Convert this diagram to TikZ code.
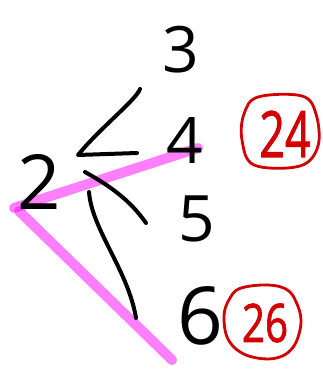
\documentclass[tikz,border=0pt]{standalone}
\usepackage{fontspec}
\setmainfont{Open Sans}
\newfontfamily\redfont[FakeBold=1.6]{Open Sans}
\definecolor{hlc}{RGB}{255,0,255}
\definecolor{redink}{RGB}{210,0,0}
\begin{document}
\begin{tikzpicture}[x=1pt,y=-1pt,
  num/.style={inner sep=0pt,font=\fontsize{64}{64}\selectfont},
  rnum/.style={inner sep=0pt,text=redink,font=\redfont\fontsize{64}{64}\selectfont},
  ink/.style={line width=4pt,line cap=round,line join=round},
  hl/.style={line width=10pt,line cap=round,draw=hlc,draw opacity=0.5},
  ring/.style={line width=2.8pt,draw=redink,line join=round}]
\useasboundingbox (0,0) rectangle (322,372);
% highlight (behind)
\coordinate (p0) at (14,208);
\coordinate (p1) at (198,148);
\coordinate (p2) at (172,360);
\draw[hl] (p0) -- (p1);
\draw[hl] (19,211) -- (p2);
\node[num] (n3) at (181,50) {3};
\node[num] (n4) at (185,141) {4};
\node[num,font=\fontsize{76}{76}\selectfont] (n2) at (39,182) {2};
\node[num] (n5) at (197,219) {5};
\node[num,font=\fontsize{80}{80}\selectfont] (n6) at (200,316) {6};
\node[rnum] (r24) at (285,134) {\scalebox{0.7}[1]{24}};
\node[rnum,font=\redfont\fontsize{53}{53}\selectfont] (r26) at (265,323) {\scalebox{0.76}[1]{26}};
% circles
\draw[ring] plot[smooth cycle,tension=0.6] coordinates {(258,97) (302,96) (316,114) (318,146) (300,166) (254,165) (242,140) (244,114)};
\draw[ring] plot[smooth cycle,tension=0.7] coordinates {(245,287) (281,287) (297,304) (300,330) (286,354) (257,358) (232,345) (224,320) (230,298)};
% black strokes
\coordinate (a1) at (140,89);
\coordinate (a2) at (78,155);
\coordinate (a3) at (137,153);
\coordinate (b1) at (85,172);
\coordinate (b2) at (146,223);
\coordinate (c1) at (89,192);
\coordinate (c2) at (136,318);
\draw[ink] (a1) .. controls (136,100) and (100,128) .. (a2) -- (a3);
\draw[ink] (b1) .. controls (110,186) and (130,200) .. (b2);
\draw[ink] (c1) .. controls (92,230) and (128,270) .. (c2);
\end{tikzpicture}
\end{document}
